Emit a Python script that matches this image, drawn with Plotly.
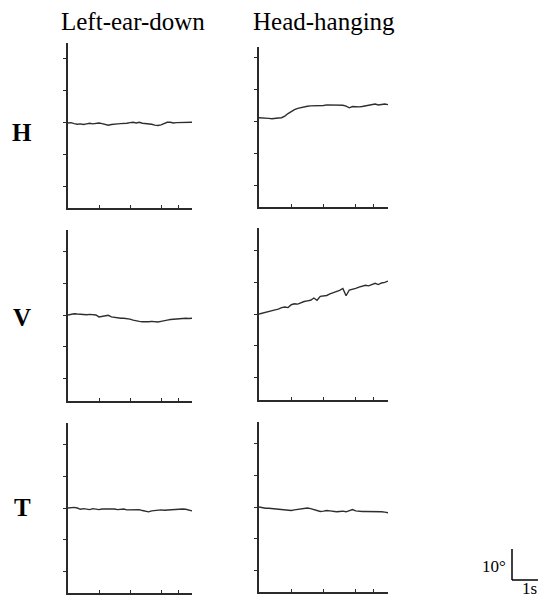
import plotly.graph_objects as go

# page body has an 8px default margin; figure is sized to fit inside it
OFF = 8
W, H = 546 - OFF, 598 - OFF

# ---- data (degrees vs seconds) ----
time_s = [round(i * 0.1, 1) for i in range(41)]

h_left = [0.0, 0.1, -0.2, -0.4, -0.3, -0.5, -0.3, -0.1, -0.3, -0.2, 0.0, -0.2, -0.4, -0.7,
          -0.5, -0.3, -0.3, -0.2, -0.2, -0.1, 0.1, 0.2, 0.0, 0.2, -0.1, -0.2, -0.1, -0.4,
          -0.7, -0.8, -0.6, -0.2, 0.2, 0.2, 0.0, 0.1, 0.1, 0.2, 0.3, 0.3, 0.2]
h_right = [1.3, 1.3, 1.2, 1.1, 1.0, 1.0, 1.2, 1.3, 1.8, 2.6, 3.3, 3.8, 4.2, 4.5, 4.7, 4.9,
           5.0, 5.0, 5.2, 5.0, 5.1, 5.3, 5.3, 5.2, 5.2, 5.1, 5.2, 4.9, 4.4, 4.8, 4.7, 4.7,
           4.8, 5.0, 5.0, 5.3, 5.6, 5.3, 5.4, 5.6, 5.4]
v_left = [0.0, 0.2, 0.4, 0.3, 0.2, 0.3, 0.1, 0.2, 0.2, 0.0, -0.6, -0.4, -0.3, -0.1, -0.6,
          -0.8, -0.9, -1.0, -1.0, -1.1, -1.3, -1.6, -1.9, -2.0, -2.1, -2.2, -2.1, -2.0,
          -2.1, -2.2, -2.0, -1.9, -1.6, -1.4, -1.3, -1.1, -1.0, -1.0, -1.0, -1.1, -1.0]
v_right = [0.0, 0.3, 0.6, 0.8, 1.0, 1.3, 1.5, 2.0, 2.2, 2.0, 2.9, 3.2, 3.1, 3.6, 3.9, 4.1,
           4.3, 5.0, 4.3, 5.5, 5.7, 5.8, 6.3, 6.6, 6.9, 7.4, 8.0, 5.7, 7.5, 7.7, 8.0, 8.4,
           8.7, 9.0, 8.8, 9.2, 9.6, 9.2, 9.7, 9.9, 10.3]
t_left = [0.0, 0.1, 0.2, 0.0, -0.4, -0.2, -0.3, -0.5, -0.2, -0.3, -0.5, -0.3, -0.3, -0.1,
          -0.2, -0.3, -0.5, -0.4, -0.3, -0.6, -0.6, -0.6, -0.6, -0.5, -0.8, -1.0, -1.2,
          -0.9, -0.8, -0.6, -0.6, -0.7, -0.6, -0.5, -0.6, -0.5, -0.4, -0.3, -0.4, -0.6, -0.9]
t_right = [0.0, -0.3, -0.4, -0.4, -0.5, -0.7, -0.8, -1.0, -0.9, -1.2, -1.1, -0.9, -0.7,
           -0.6, -0.4, -0.3, -0.5, -0.8, -1.1, -1.4, -1.3, -1.1, -1.2, -1.4, -1.5, -1.4,
           -1.3, -1.5, -1.1, -0.8, -1.2, -1.4, -1.4, -1.4, -1.4, -1.3, -1.4, -1.3, -1.5,
           -1.6, -1.8]

column_titles = ["Left-ear-down", "Head-hanging"]
row_labels = ["H", "V", "T"]
x_tickvals = [1, 2, 3, 3.55, 4]
y_tickvals = [-20, -10, 0, 10, 20]

series = [h_left, h_right, v_left, v_right, t_left, t_right]

# ---- layout geometry (pixels in the 546x598 window) ----
col_x = [(68, 192), (259, 388)]
# (top px, bottom px, y-range bottom, y-range top)
panel_y = [(43, 208, -26.6, 25.0), (47, 207, -26.6, 23.4),
           (230, 401, -26.9, 26.6), (228, 400, -26.9, 26.9),
           (423, 593, -26.6, 26.6), (422, 592, -26.6, 26.6)]

def px(x):
    return (x - OFF) / W

def py(y):
    return 1 - (y - OFF) / H

fig = go.Figure()
layout = dict(width=W, height=H, margin=dict(l=0, r=0, t=0, b=0),
              paper_bgcolor="white", plot_bgcolor="white", showlegend=False)

serif = "Liberation Serif, Times New Roman, serif"
axis_color = "#2a2a2a"
for i, vals in enumerate(series):
    r, c = divmod(i, 2)
    n = i + 1
    xa = "x" if n == 1 else f"x{n}"
    ya = "y" if n == 1 else f"y{n}"
    fig.add_trace(go.Scatter(x=time_s, y=vals, mode="lines", xaxis=xa, yaxis=ya,
                             line=dict(color="#2e2e2e", width=1.4), hoverinfo="skip",
                             cliponaxis=False))
    x0, x1 = col_x[c]
    top, bot, ylo, yhi = panel_y[i]
    layout["xaxis" if n == 1 else f"xaxis{n}"] = dict(
        domain=[px(x0), px(x1)], range=[0, 4], anchor=ya,
        showline=True, linecolor=axis_color, linewidth=1.5, showgrid=False,
        zeroline=False, ticks="inside", ticklen=3, tickcolor=axis_color,
        tickvals=x_tickvals, showticklabels=False, fixedrange=True)
    layout["yaxis" if n == 1 else f"yaxis{n}"] = dict(
        domain=[max(0, py(bot)), py(top)], range=[ylo, yhi], anchor=xa,
        showline=True, linecolor=axis_color, linewidth=1.5, showgrid=False,
        zeroline=False, ticks="outside", ticklen=3, tickcolor=axis_color,
        tickvals=y_tickvals, showticklabels=False, fixedrange=True)

annotations = []
title_x = [133, 324]
for t, xc in zip(column_titles, title_x):
    annotations.append(dict(text=t, x=px(xc), y=py(22), xref="paper", yref="paper",
                            showarrow=False, xanchor="center", yanchor="middle",
                            font=dict(family=serif, size=25, color="black")))
row_y = [132, 317, 507]
for t, yc in zip(row_labels, row_y):
    annotations.append(dict(text=f"<b>{t}</b>", x=px(22), y=py(yc), xref="paper",
                            yref="paper", showarrow=False, xanchor="center",
                            yanchor="middle",
                            font=dict(family=serif, size=25, color="black")))
# scale bar labels
annotations.append(dict(text="10°", x=px(508), y=py(566), xref="paper", yref="paper",
                        showarrow=False, xanchor="right", yanchor="middle",
                        font=dict(family=serif, size=17, color="black")))
annotations.append(dict(text="1s", x=px(529), y=py(588), xref="paper", yref="paper",
                        showarrow=False, xanchor="center", yanchor="middle",
                        font=dict(family=serif, size=17, color="black")))
layout["annotations"] = annotations

layout["shapes"] = [
    dict(type="line", xref="paper", yref="paper", x0=px(512), x1=px(512),
         y0=py(549), y1=py(580), line=dict(color="black", width=1.5)),
    dict(type="line", xref="paper", yref="paper", x0=px(512), x1=px(543),
         y0=py(580), y1=py(580), line=dict(color="black", width=1.5)),
]

fig.update_layout(**layout)
fig.write_html("out.html")
